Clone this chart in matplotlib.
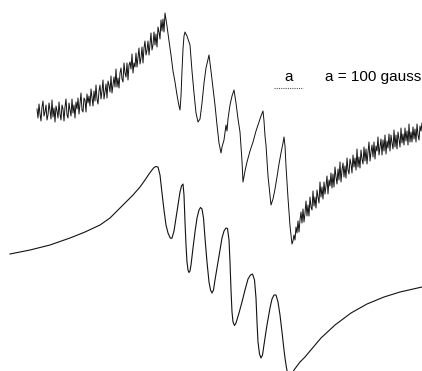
import matplotlib
matplotlib.use("Agg")
import matplotlib.pyplot as plt

# Experimental spectrum (top trace): field position (arb.) and signal (arb.)
exp_field_left = list(range(37, 166))
exp_signal_left = [262, 253, 267, 257, 250, 264, 270, 255, 259, 266,
                   251, 256, 268, 261, 252, 271, 254, 263, 249, 265,
                   260, 253, 269, 257, 251, 266, 262, 250, 264, 272,
                   256, 253, 268, 261, 255, 272, 258, 266, 253, 269,
                   262, 273, 257, 267, 278, 261, 259, 273, 271, 259,
                   277, 268, 275, 265, 282, 273, 265, 280, 270, 286,
                   272, 267, 280, 286, 272, 280, 291, 272, 279, 287,
                   273, 290, 286, 279, 295, 278, 286, 294, 284, 302,
                   284, 293, 283, 298, 303, 292, 289, 308, 298, 294,
                   308, 291, 306, 309, 302, 317, 298, 308, 304, 318,
                   304, 314, 323, 307, 313, 324, 308, 323, 330, 316,
                   321, 330, 316, 327, 338, 321, 326, 339, 326, 337,
                   324, 344, 339, 332, 351, 340, 352, 339, 358]

exp_field_mid = [167, 169, 171, 173, 175, 177, 179, 180, 181, 182, 183, 184, 185, 187, 189, 190,
                 192, 194, 196, 198, 200, 202, 204, 206, 208, 209, 211, 213, 215, 217, 219, 221,
                 222, 224, 226, 227, 228, 230, 232, 234, 236, 238, 240, 242, 243, 245, 247, 250,
                 253, 256, 259, 261, 263, 264, 265, 266, 268, 271, 273, 275, 277, 279, 281, 283,
                 284, 285, 286, 288, 290, 292]
exp_signal_mid = [345, 330, 316, 300, 289, 276, 265, 261, 275, 300, 322, 335, 339, 335, 329, 326,
                  300, 278, 258, 249, 252, 268, 288, 303, 312, 316, 300, 283, 266, 246, 228, 218,
                  224, 231, 246, 240, 252, 266, 275, 281, 268, 252, 239, 210, 189, 200, 209, 220,
                  229, 240, 249, 255, 260, 250, 235, 226, 195, 166, 172, 182, 194, 207, 218, 228,
                  234, 225, 205, 173, 145, 127]

exp_field_right = list(range(293, 423))
exp_signal_right = [130, 136, 131, 144, 138, 150, 139, 151, 159, 148,
                    162, 149, 158, 170, 155, 166, 155, 174, 164, 161,
                    180, 165, 174, 163, 181, 174, 168, 189, 174, 184,
                    172, 189, 177, 185, 195, 177, 191, 185, 198, 183,
                    197, 184, 204, 194, 187, 202, 191, 209, 189, 201,
                    208, 194, 205, 193, 213, 201, 197, 212, 207, 198,
                    216, 204, 213, 201, 222, 204, 214, 203, 221, 212,
                    207, 224, 210, 222, 207, 219, 229, 210, 219, 226,
                    214, 229, 212, 225, 220, 234, 216, 224, 232, 216,
                    231, 220, 236, 217, 230, 223, 237, 220, 236, 228,
                    222, 241, 224, 236, 222, 239, 232, 224, 243, 228,
                    237, 226, 243, 230, 240, 226, 247, 229, 239, 229,
                    244, 232, 242, 229, 247, 236, 231, 245, 240, 248]

# Simulated spectrum (bottom trace)
sim_field = [10, 30, 50, 70, 85, 100, 110, 117, 125, 133, 140, 145, 149, 152, 154, 156, 158, 160,
             162, 164, 166, 168, 170, 171, 172, 174, 176, 178, 180, 181.5, 183, 184, 185, 186, 187,
             188, 189, 190, 191, 193, 195, 197, 199, 200.5, 202, 203.5, 205, 207, 209, 210.5, 212,
             213.5, 215, 217, 220, 222, 224, 226, 227.5, 229, 230, 231, 232, 233, 234.5, 236, 239,
             242, 245, 248, 250.5, 252.5, 254.5, 256, 257, 258, 259.5, 261, 262.5, 265, 267, 270,
             272, 274, 276, 278, 280, 282, 284, 285, 286.5, 288, 290, 292, 294, 297, 300, 305, 310,
             321, 335, 351, 367, 384, 400, 422]
sim_signal = [117, 121, 126, 133, 139, 146, 153, 160, 168, 176, 184, 191, 197, 201, 203.5, 204.5,
              204, 196, 178, 161, 146, 138, 133.5, 132.5, 133, 140, 153, 166, 179, 185, 187, 176,
              149, 126, 109, 101, 98.5, 100, 106, 123, 139, 153, 161, 163.5, 162, 153, 133, 109, 89,
              81, 78, 81, 91, 103, 121, 133, 140, 143, 142.5, 131, 109, 81, 59, 49, 45.5, 48, 58, 69,
              81, 92, 96, 97, 91, 73, 49, 29, 17, 13, 16, 33, 46, 63, 72, 76, 76, 69, 56, 39, 21, 13,
              3, -4, -9, -5, 1, 5, 9, 14, 20, 33, 46, 58, 67, 74, 79, 84]

scale_label = "a"
scale_text = "a = 100 gauss"
scale_start, scale_end, scale_level = 274, 303, 283

fig = plt.figure(figsize=(4.22, 3.71), dpi=100)
ax = fig.add_axes([0, 0, 1, 1])
ax.set_xlim(0, 422)
ax.set_ylim(0, 371)
ax.axis("off")

exp_field = exp_field_left + exp_field_mid + exp_field_right
exp_signal = exp_signal_left + exp_signal_mid + exp_signal_right
ax.plot(exp_field, exp_signal, color="#111111", lw=0.7)
ax.plot(sim_field, sim_signal, color="#111111", lw=0.8)

ax.plot([scale_start, scale_end], [scale_level, scale_level], color="#555555",
        lw=0.8, linestyle=(0, (1, 1)))
ax.text((scale_start + scale_end) / 2, scale_level + 11, scale_label, ha="center",
        va="center", fontsize=11, family="Liberation Sans")
ax.text(325, scale_level + 11, scale_text, ha="left", va="center", fontsize=11,
        family="Liberation Sans")

fig.savefig("out.png", dpi=100)
